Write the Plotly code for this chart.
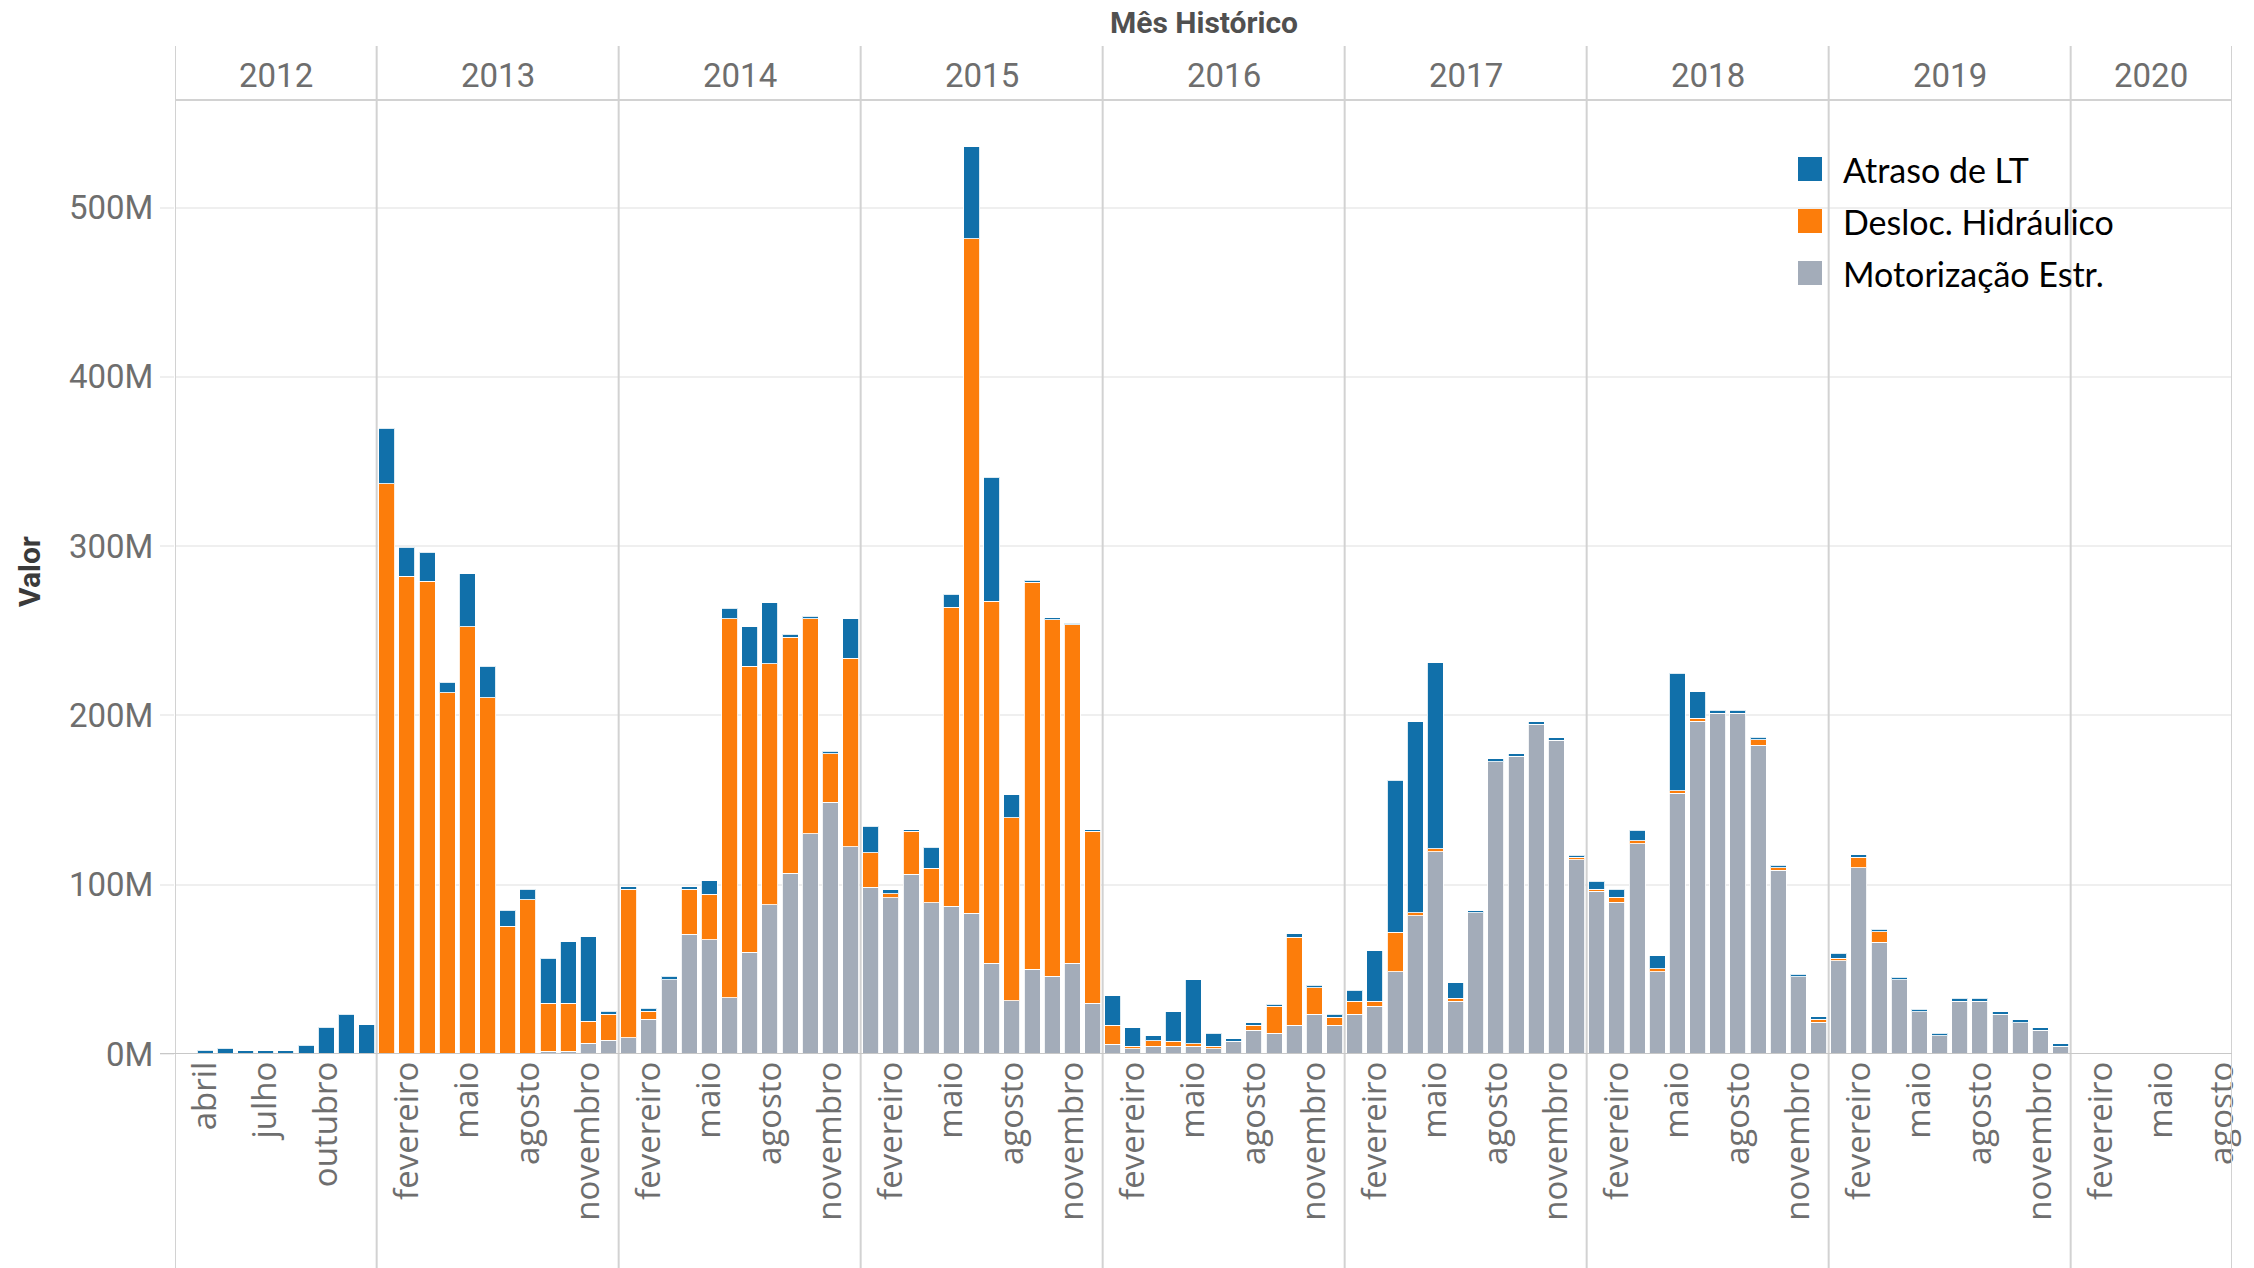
import plotly.graph_objects as go

# ---------------- data ----------------
MONTHS_PT = ["janeiro", "fevereiro", "março", "abril", "maio", "junho",
             "julho", "agosto", "setembro", "outubro", "novembro", "dezembro"]
YEARS = [2012, 2013, 2014, 2015, 2016, 2017, 2018, 2019, 2020]
FIRST_MONTH = {2012: 3}
LAST_MONTH = {2020: 8}
TICK_MONTHS = {2012: [4, 7, 10], 2020: [2, 5, 8]}
DEFAULT_TICK_MONTHS = [2, 5, 8, 11]

SERIES_NAMES = ["Atraso de LT", "Desloc. Hidráulico", "Motorização Estr."]
SERIES_COLORS = ["#1170AA", "#FC7D0B", "#A3ACB9"]

# values in millions (M)
atraso_lt = [
    # 2012 (mar..dez)
    None, 2.2, 3.5, 2.0, 2.0, 2.0, 5.3, 15.7, 23.6, 17.4,
    # 2013
    32.9, 17.2, 17.2, 6.3, 31.3, 18.5, 9.2, 6.3, 26.6, 36.1, 49.8, 1.8,
    # 2014
    1.5, 1.7, 1.8, 1.5, 7.7, 6.2, 23.4, 35.8, 1.5, 1.5, 1.5, 23.4,
    # 2015
    15.7, 2.1, 1.0, 12.2, 7.7, 54.5, 73.1, 13.6, 1.0, 1.1, 1.0, 1.0,
    # 2016
    17.3, 10.8, 2.8, 17.5, 37.7, 7.7, 1.6, 1.4, 1.4, 2.0, 1.4, 1.6,
    # 2017
    6.3, 29.7, 89.9, 112.8, 109.9, 9.3, 1.2, 1.6, 1.6, 1.5, 1.6, 1.2,
    # 2018
    4.6, 4.5, 6.2, 7.7, 69.4, 15.7, 1.6, 1.6, 1.6, 1.4, 1.6, 1.6,
    # 2019
    3.0, 1.6, 1.6, 1.5, 1.5, 1.6, 1.6, 1.6, 1.6, 1.6, 1.5, 1.5,
    # 2020 (jan..ago)
    None, None, None, None, None, None, None, None,
]

desloc_hidraulico = [
    # 2012
    None, None, None, None, None, None, None, None, None, None,
    # 2013
    336.8, 282.1, 279.1, 213.4, 252.5, 210.4, 75.6, 91.0, 28.4, 28.4, 12.9, 15.4,
    # 2014
    87.8, 4.8, None, 26.7, 27.1, 223.9, 169.1, 142.5, 139.6, 127.1, 28.6, 111.4,
    # 2015
    20.3, 2.5, 25.2, 20.6, 176.6, 398.3, 214.0, 108.0, 228.7, 210.8, 200.0, 101.4,
    # 2016
    11.1, 1.4, 3.3, 2.9, 1.5, 1.4, None, 3.1, 15.8, 51.9, 15.8, 4.8,
    # 2017
    7.9, 3.2, 23.2, 1.6, 1.8, 1.6, None, None, None, None, None, 1.5,
    # 2018
    1.4, 3.2, 1.7, 1.6, 1.3, 1.6, None, None, 3.1, 1.6, None, 1.6,
    # 2019
    1.6, 6.1, 6.2, None, None, None, None, None, None, None, None, None,
    # 2020
    None, None, None, None, None, None, None, None,
]

motorizacao_estr = [
    # 2012
    None, None, None, None, None, None, None, None, None, None,
    # 2013
    None, None, None, None, None, None, None, None, 1.7, 1.7, 6.5, 8.2,
    # 2014
    9.5, 20.6, 44.0, 70.6, 67.4, 33.3, 60.0, 88.1, 106.7, 130.1, 148.8, 122.4,
    # 2015
    98.6, 92.3, 106.3, 89.2, 87.4, 83.2, 53.5, 31.5, 50.0, 45.8, 53.5, 30.1,
    # 2016
    5.9, 3.2, 4.6, 4.6, 4.6, 3.2, 7.5, 13.9, 12.3, 17.0, 23.4, 17.0,
    # 2017
    23.4, 28.1, 48.7, 81.8, 119.4, 31.3, 83.4, 172.7, 175.8, 194.7, 185.3, 114.7,
    # 2018
    96.0, 89.5, 124.2, 48.7, 154.1, 196.6, 201.4, 201.4, 182.4, 108.5, 45.5, 18.8,
    # 2019
    55.0, 110.1, 65.9, 43.8, 25.0, 10.7, 31.3, 31.3, 23.4, 18.6, 13.9, 4.6,
    # 2020
    None, None, None, None, None, None, None, None,
]

Y_TICKS = [0, 100, 200, 300, 400, 500]

# ---------------- layout constants (pixels) ----------------
W, H = 2254, 1268
PL, PR, PT, PB = 175, 2232, 100, 1054
Y_TOP = (PB - PT) / 169.3 * 100  # axis top in M

def xp(px):
    return (px - PL) / (PR - PL)

def yp(py):
    return (PB - py) / (PB - PT)

AXIS_FONT = "Roboto, Arial, sans-serif"
MONTH_FONT = "'Open Sans', Roboto, sans-serif"
GREY_TXT = "#6e6e6e"
SEP_COLOR = "#d2d2d2"

periods = [(y, m) for y in YEARS
           for m in range(FIRST_MONTH.get(y, 1), LAST_MONTH.get(y, 12) + 1)]
xs = list(range(len(periods)))

fig = go.Figure()
series = [atraso_lt, desloc_hidraulico, motorizacao_estr]
# stack order bottom -> top: Motorização, Desloc., Atraso
for idx in [2, 1, 0]:
    fig.add_trace(go.Bar(
        x=xs, y=series[idx], name=SERIES_NAMES[idx],
        marker=dict(color=SERIES_COLORS[idx],
                    line=dict(color="rgba(255,255,255,0.85)", width=1)),
        showlegend=False,
        hovertemplate="%{y}M<extra>" + SERIES_NAMES[idx] + "</extra>",
    ))

tickvals, ticktext = [], []
for i, (y, m) in enumerate(periods):
    if m in TICK_MONTHS.get(y, DEFAULT_TICK_MONTHS):
        tickvals.append(i)
        ticktext.append(MONTHS_PT[m - 1])

shapes, annotations = [], []

# year panels: separators + headers
year_idx = {}
for i, (y, m) in enumerate(periods):
    year_idx.setdefault(y, []).append(i)
bounds = [year_idx[y][0] - 0.5 for y in YEARS] + [len(periods) - 0.5]
for b in bounds:
    shapes.append(dict(type="line", xref="x", yref="paper", x0=b, x1=b,
                       y0=yp(H + 5), y1=yp(46),
                       line=dict(color=SEP_COLOR, width=2), layer="above"))
for y in YEARS:
    c = (year_idx[y][0] + year_idx[y][-1]) / 2
    annotations.append(dict(x=c, y=yp(75), xref="x", yref="paper", text=str(y),
                            showarrow=False, xanchor="center", yanchor="middle",
                            font=dict(family=AXIS_FONT, size=33, color=GREY_TXT)))
# header bottom line
shapes.append(dict(type="line", xref="paper", yref="paper", x0=0, x1=1,
                   y0=1, y1=1, line=dict(color=SEP_COLOR, width=2), layer="above"))
# zero baseline
shapes.append(dict(type="line", xref="paper", yref="y", x0=xp(160), x1=1,
                   y0=0, y1=0, line=dict(color="#c8c8c8", width=2), layer="above"))

# titles
annotations.append(dict(x=0.5, y=yp(22), xref="paper", yref="paper",
                        text="<b>Mês Histórico</b>", showarrow=False,
                        xanchor="center", yanchor="middle",
                        font=dict(family=AXIS_FONT, size=30, color="#505050")))
annotations.append(dict(x=xp(29), y=yp(572), xref="paper", yref="paper",
                        text="<b>Valor</b>", showarrow=False, textangle=-90,
                        xanchor="center", yanchor="middle",
                        font=dict(family=AXIS_FONT, size=30, color="#3a3a3a")))

# legend (drawn manually to match swatch size)
LEG_ROWS = [169, 221, 273]
for k, name in enumerate(SERIES_NAMES):
    cy = LEG_ROWS[k]
    shapes.append(dict(type="rect", xref="paper", yref="paper",
                       x0=xp(1798), x1=xp(1822), y0=yp(cy + 12), y1=yp(cy - 12),
                       fillcolor=SERIES_COLORS[k], line=dict(width=0), layer="above"))
    annotations.append(dict(x=xp(1841), y=yp(cy), xref="paper", yref="paper",
                            text=name, showarrow=False, xanchor="left",
                            yanchor="middle",
                            font=dict(family="Lato, 'Open Sans', sans-serif",
                                      size=34, color="#000000")))

fig.update_layout(
    width=W, height=H,
    margin=dict(l=PL, r=W - PR, t=PT, b=H - PB, pad=0),
    paper_bgcolor="white", plot_bgcolor="white",
    barmode="stack", bargap=0.2,
    shapes=shapes, annotations=annotations,
    showlegend=False,
    xaxis=dict(range=[-0.5, len(periods) - 0.5], tickmode="array",
               tickvals=tickvals, ticktext=ticktext, tickangle=-90,
               showgrid=False, zeroline=False, showline=False, ticks="",
               tickfont=dict(family=MONTH_FONT, size=33, color=GREY_TXT),
               fixedrange=True),
    yaxis=dict(range=[0, Y_TOP], tickmode="array", tickvals=Y_TICKS,
               ticktext=[f"{v}M" for v in Y_TICKS],
               showgrid=True, gridcolor="#efefef", gridwidth=2,
               zeroline=False, showline=False,
               ticks="outside", ticklen=14, tickcolor="#efefef", tickwidth=2,
               tickfont=dict(family=AXIS_FONT, size=33, color=GREY_TXT),
               fixedrange=True),
    font=dict(family=AXIS_FONT),
)

fig.write_html("out.html",
               config={"displayModeBar": False},
               post_script="document.body.style.margin='0';"
                           "document.body.style.overflow='hidden';")
